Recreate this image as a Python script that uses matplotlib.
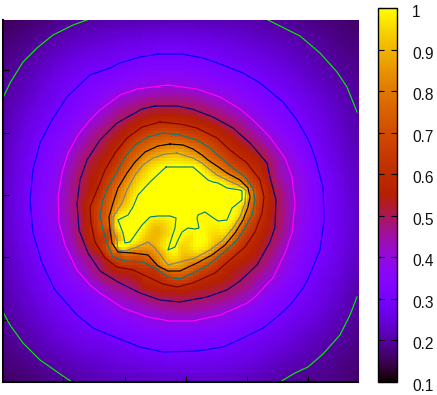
import numpy as np
import matplotlib
matplotlib.use('Agg')
import matplotlib.pyplot as plt
import matplotlib.tri as mtri
from matplotlib.colors import ListedColormap
from matplotlib.transforms import ScaledTranslation

plt.rcParams['font.family'] = ['Liberation Sans', 'DejaVu Sans']

# contours, x/y in picture pixels
green_tl = [(3,98),(10,83),(23,62),(37,48),(53,35),(73,25),(87,20)]
green_tr = [(268,20),(282,27),(300,36),(320,53),(337,72),(347,87),(357,112)]
green_br = [(357,297),(350,315),(340,335),(323,354),(308,367),(295,373),(280,382)]
green_bl = [(72,382),(63,376),(40,360),(23,343),(10,325),(3,312)]

blue = [(158,54),(182,54),(203,58),(223,65),(243,73),(260,83),(283,102),(297,120),(308,139),(315,157),
        (323,187),(324,220),(320,250),(308,279),(303,288),(290,305),(277,317),(263,328),(243,338),(223,347),
        (197,351),(163,352),(140,347),(117,338),(93,328),(77,315),(55,290),(42,263),(33,233),(30,200),
        (33,170),(40,143),(52,120),(67,97),(90,75),(110,68),(120,63),(140,57)]
magenta = [(168,85),(197,89),(220,97),(240,109),(253,120),(265,132),(272,140),(285,158),(292,177),(295,203),
           (292,233),(285,253),(273,278),(268,283),(255,297),(247,303),(220,315),(193,321),(170,321),(148,317),
           (123,308),(100,293),(90,285),(77,270),(65,245),(59,223),(58,197),(62,173),(68,153),(78,135),
           (90,120),(100,110),(120,95),(137,89)]
navy = [(155,106),(177,106),(192,109),(213,117),(233,128),(250,143),(267,163),(270,177),(276,200),(275,227),
        (270,242),(257,265),(240,281),(227,290),(207,297),(180,302),(160,300),(140,293),(118,282),(100,271),
        (88,253),(79,230),(77,203),(80,180),(87,160),(100,140),(117,123),(142,109)]
darkred = [(160,122),(180,124),(197,128),(217,138),(230,150),(247,163),(260,180),(264,197),(262,213),(255,232),
           (245,247),(230,260),(215,273),(193,283),(177,287),(163,284),(148,277),(133,270),(117,267),(105,258),
           (95,242),(91,223),(90,207),(97,190),(105,170),(115,153),(127,138),(142,127)]
teal = [(163,133),(180,135),(197,140),(210,148),(220,157),(233,168),(245,177),(253,188),(255,200),(252,215),
        (245,228),(237,240),(223,253),(208,265),(193,273),(180,279),(168,277),(155,268),(143,262),(125,261),
        (113,257),(107,243),(103,230),(100,215),(103,200),(108,187),(117,172),(125,157),(135,145),(148,137)]
black = [(170,144),(183,145),(193,149),(202,155),(208,160),(217,166),(227,173),(240,180),(248,188),(250,197),
         (248,207),(243,220),(235,233),(225,245),(212,255),(197,263),(180,271),(168,271),(158,266),(148,255),
         (133,253),(118,252),(112,243),(110,230),(109,217),(113,203),(118,188),(127,173),(135,162),(145,152),
         (158,146)]
grey = [(177,153),(183,155),(193,158),(202,163),(208,168),(217,175),(227,180),(238,185),(246,190),(245,203),
        (240,217),(233,228),(223,240),(210,250),(195,258),(180,262),(168,265),(162,257),(155,248),(148,242),
        (137,247),(125,251),(118,250),(117,240),(113,230),(113,217),(122,203),(127,190),(135,175),(143,165),
        (153,158),(165,154)]
inner = [(166,167),(193,167),(200,173),(208,180),(213,182),(218,183),(227,188),(240,190),(242,191),(242,200),
         (237,204),(232,208),(227,220),(218,221),(212,217),(205,212),(198,215),(197,218),(199,228),(195,229),
         (188,228),(182,232),(179,238),(175,247),(168,250),(171,240),(175,228),(176,218),(170,216),(158,216),
         (150,217),(142,225),(130,242),(125,243),(123,233),(118,220),(128,215),(133,207),(138,195),(150,182)]

rings = [blue, magenta, navy, darkred, teal, black, grey, inner]
ring_levels = [0.3, 0.4, 0.5, 0.6, 0.7, 0.8, 0.9, 1.0]
ring_colors = ['#0000ff', '#ff00ff', '#00007f', '#7f0000', '#007f7f', '#000000', '#7f7f7f', '#007f7f']
green_arcs = [green_tl, green_tr, green_br, green_bl]
green_level = 0.2

# extra spot readings: frame edges, the dip between the yellow lobes, the saturated core
spot_x = [2.5, 358, 358, 2.5, 2.5, 358, 175, 175, 157, 143, 180, 213,
          180, 200, 150, 165, 180, 220, 140, 130, 190, 160, 205, 128]
spot_y = [20, 20, 382, 382, 205, 205, 20, 382, 230, 238, 247, 237,
          190, 195, 200, 205, 178, 198, 210, 225, 212, 180, 205, 232]
spot_v = [0.155, 0.16, 0.16, 0.16, 0.225, 0.225, 0.215, 0.23, 0.91, 0.94, 0.95, 0.95,
          1.04, 1.04, 1.04, 1.04, 1.04, 1.04, 1.04, 1.04, 1.04, 1.04, 1.04, 1.04]

cbar_ticks = [0.1, 0.2, 0.3, 0.4, 0.5, 0.6, 0.7, 0.8, 0.9, 1.0]
cbar_labels = ['0.1', '0.2', '0.3', '0.4', '0.5', '0.6', '0.7', '0.8', '0.9', '1']
x_ticks = [63.3, 124.5, 186, 247.3, 308.3]
y_ticks = [70, 133, 195, 257, 320]

W, H = 437, 395
L, R, T, B = 2.5, 358, 20, 382

# gnuplot's default pm3d palette (rgbformulae 7,5,15)
s = np.linspace(0, 1, 256)
pm3d = ListedColormap(np.c_[np.sqrt(s), s**3, np.clip(np.sin(2*np.pi*s), 0, 1)])

xs, ys, vs = list(spot_x), list(spot_y), list(spot_v)
for ring, lev in zip(rings + green_arcs, ring_levels + [green_level]*4):
    for px, py in ring:
        xs.append(px)
        ys.append(py)
        vs.append(lev)
tri = mtri.Triangulation(np.array(xs, float), np.array(ys, float))
interp = mtri.CubicTriInterpolator(tri, np.array(vs), kind='min_E')
gx, gy = np.meshgrid(np.arange(L + 1.5, R, 3.0), np.arange(T + 1.5, B, 3.0))
field = interp(gx, gy)

fig = plt.figure(figsize=(W/100, H/100), dpi=100)
ax = fig.add_axes([L/W, 1 - B/H, (R - L)/W, (B - T)/H])
im = ax.imshow(field, extent=(L, R, B, T), cmap=pm3d, vmin=0.1, vmax=1, interpolation='nearest', aspect='auto')

for arc in green_arcs:
    a = np.array(arc)
    ax.plot(a[:, 0], a[:, 1], color='#00ee00', lw=0.85)
for ring, col in zip(rings, ring_colors):
    a = np.array(ring + ring[:1])
    ax.plot(a[:, 0], a[:, 1], color=col, lw=0.85)

ax.set_xlim(L, R)
ax.set_ylim(B, T)
ax.set_xticks(x_ticks)
ax.set_yticks(y_ticks)
ax.set_xticklabels([])
ax.set_yticklabels([])
ax.tick_params(direction='in', length=4.2, width=0.8, color='black')
ax.spines['top'].set_visible(False)
ax.spines['right'].set_visible(False)
ax.spines['left'].set_linewidth(1.5)
ax.spines['bottom'].set_linewidth(1.5)

cax = fig.add_axes([378/W, 1 - 382/H, 19/W, 374/H])
cb = fig.colorbar(im, cax=cax)
cb.set_ticks(cbar_ticks)
cb.set_ticklabels(cbar_labels)
cax.tick_params(left=True, right=True, direction='in', length=4, width=0.8, pad=11, labelsize=11.2, labelcolor='#111111')
cb.outline.set_linewidth(1)
for lab in cax.get_yticklabels():
    lab.set_transform(lab.get_transform() + ScaledTranslation(0, -3/100, fig.dpi_scale_trans))

fig.savefig('out.png', dpi=100)
